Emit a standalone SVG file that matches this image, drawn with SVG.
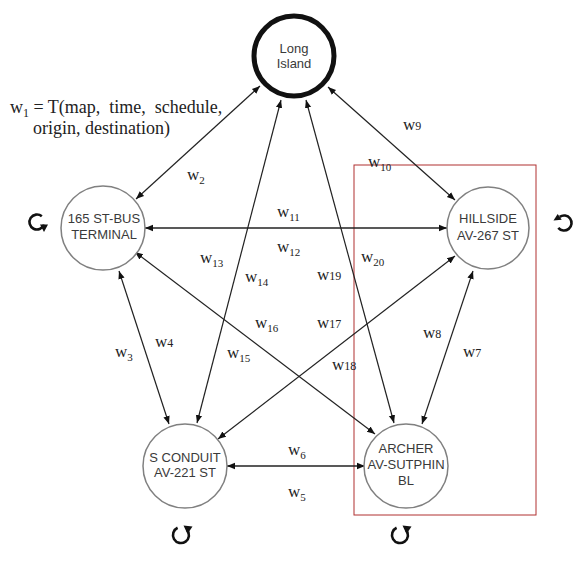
<svg xmlns="http://www.w3.org/2000/svg" width="579" height="564" viewBox="0 0 579 564">
<style>
.node circle{fill:#fff;stroke:#808080;stroke-width:1.5}
.nt{font-family:"Liberation Sans",Arial,sans-serif;font-size:13px;fill:#3a3a3a;text-anchor:middle}
.lbl{font-family:"Liberation Serif","Times New Roman",serif;font-size:17px;fill:#222}
.sub{font-size:11px}
.sm{font-size:12px}
.edge{stroke:#222;stroke-width:1.2;fill:none;marker-start:url(#ah);marker-end:url(#ah)}
.edge.h{stroke-width:1.6}
.icon{fill:none;stroke:#111;stroke-width:2.6}
.head{fill:#111}
</style>
<defs>
<marker id="ah" viewBox="0 0 10 10" refX="10" refY="5" markerWidth="8" markerHeight="8" markerUnits="userSpaceOnUse" orient="auto-start-reverse">
<path d="M0,1 L10,5 L0,9 z" fill="#111"/>
</marker>
<g id="rotB">
<path class="icon" d="M-3.4,-7.2 A8,8 0 1 0 6.1,-5.1"/>
<polygon class="head" points="2.5,-9.5 11.5,-8.5 6.5,-1"/>
</g>
</defs>
<rect width="579" height="564" fill="#fff"/>

<rect id="highlight" x="354" y="165" width="182" height="350" fill="none" stroke="#b03030" stroke-width="1"/>

<g id="connectors">
<line class="edge" x1="260" y1="86" x2="136" y2="199"/>
<line class="edge" x1="328" y1="87" x2="455" y2="200"/>
<line class="edge" x1="281" y1="100" x2="197" y2="423"/>
<line class="edge" x1="306" y1="100" x2="394" y2="423"/>
<line class="edge h" x1="145" y1="228" x2="447" y2="228"/>
<line class="edge" x1="119" y1="271" x2="169" y2="424"/>
<line class="edge" x1="135" y1="252" x2="375" y2="434"/>
<line class="edge" x1="455" y1="256" x2="218" y2="439"/>
<line class="edge" x1="473" y1="271" x2="422" y2="424"/>
<line class="edge h" x1="227" y1="466" x2="365" y2="466"/>
</g>

<g id="long-island" class="node">
<circle cx="294" cy="56" r="40" style="stroke:#111;stroke-width:5"/>
<text class="nt" x="294" y="53">Long</text>
<text class="nt" x="294" y="68">Island</text>
</g>
<g id="bus-terminal" class="node">
<circle cx="103" cy="228" r="42"/>
<text class="nt" x="104" y="223">165 ST-BUS</text>
<text class="nt" x="104" y="239">TERMINAL</text>
</g>
<g id="hillside" class="node">
<circle cx="488" cy="228" r="41"/>
<text class="nt" x="488" y="223">HILLSIDE</text>
<text class="nt" x="488" y="240">AV-267 ST</text>
</g>
<g id="s-conduit" class="node">
<circle cx="185" cy="466" r="42"/>
<text class="nt" x="185" y="462">S CONDUIT</text>
<text class="nt" x="185" y="477">AV-221 ST</text>
</g>
<g id="archer" class="node">
<circle cx="406" cy="466" r="42"/>
<text class="nt" x="406" y="453">ARCHER</text>
<text class="nt" x="406" y="469">AV-SUTPHIN</text>
<text class="nt" x="406" y="485">BL</text>
</g>

<g id="loops">
<g id="loop-bus">
<path class="icon" d="M41.8,216.3 A7.5,7.5 0 1 0 44.0,224.6"/>
<polygon class="head" points="40,224.5 48,224.5 44,232"/>
</g>
<g id="loop-hillside">
<path class="icon" d="M559.7,216.9 A7.5,7.5 0 1 1 558.3,227.8"/>
<polygon class="head" points="561.7,219.8 557.7,214 553.5,220.5"/>
</g>
<use href="#rotB" x="181" y="535"/>
<use href="#rotB" x="400" y="535"/>
</g>

<g id="formula" class="lbl" style="font-size:18px">
<text x="10" y="113" xml:space="preserve">w<tspan class="sub" style="font-size:12px" dy="4">1</tspan><tspan dy="-4"> = T(map,  time,  schedule,</tspan></text>
<text x="33" y="134">origin, destination)</text>
</g>

<g id="labels" class="lbl">
<text x="187" y="180">w<tspan class="sub" dy="4">2</tspan></text>
<text x="403" y="130">w<tspan class="sm">9</tspan></text>
<text x="368" y="167">w<tspan class="sub" dy="4">10</tspan></text>
<text x="277" y="217">w<tspan class="sub" dy="4">11</tspan></text>
<text x="277" y="252">w<tspan class="sub" dy="4">12</tspan></text>
<text x="200" y="263">w<tspan class="sub" dy="4">13</tspan></text>
<text x="245" y="282">w<tspan class="sub" dy="4">14</tspan></text>
<text x="317" y="280">w<tspan class="sm">19</tspan></text>
<text x="361" y="262">w<tspan class="sub" dy="4">20</tspan></text>
<text x="115" y="357">w<tspan class="sub" dy="4">3</tspan></text>
<text x="155" y="347">w<tspan class="sm">4</tspan></text>
<text x="255" y="328">w<tspan class="sub" dy="4">16</tspan></text>
<text x="317" y="328">w<tspan class="sm">17</tspan></text>
<text x="227" y="358">w<tspan class="sub" dy="4">15</tspan></text>
<text x="332" y="370">w<tspan class="sm">18</tspan></text>
<text x="423" y="338">w<tspan class="sm">8</tspan></text>
<text x="463" y="357">w<tspan class="sm">7</tspan></text>
<text x="288" y="455">w<tspan class="sub" dy="4">6</tspan></text>
<text x="288" y="497">w<tspan class="sub" dy="4">5</tspan></text>
</g>
</svg>
